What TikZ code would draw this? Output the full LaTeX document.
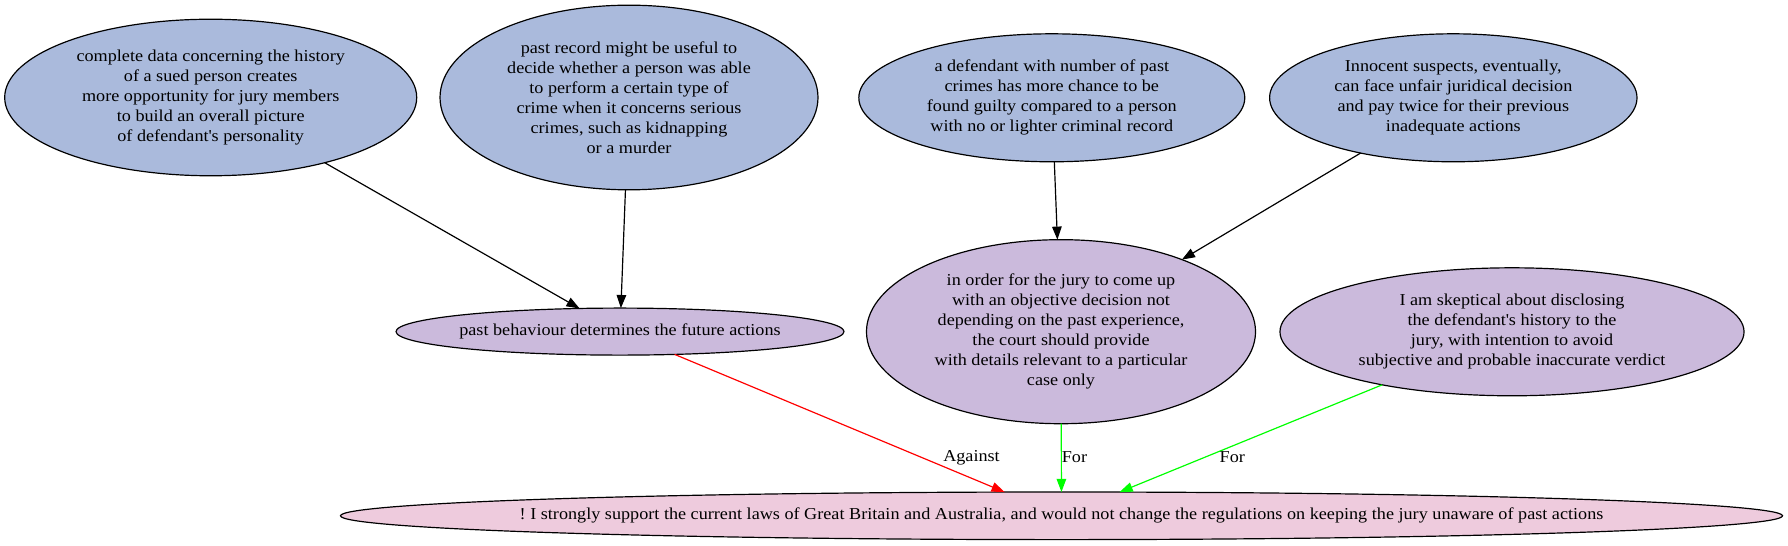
\documentclass[tikz,border=0pt]{standalone}
\usepackage{fontspec}
\setmainfont{Liberation Serif}[FakeStretch=1.09]
\usetikzlibrary{shapes.geometric,arrows.meta}
\definecolor{cblue}{HTML}{AABADC}
\definecolor{cpurple}{HTML}{CBBADC}
\definecolor{cpink}{HTML}{EECBDD}
\definecolor{cgreen}{HTML}{00FF00}
\definecolor{cred}{HTML}{FF0000}
\newcommand{\ap}{\textquotesingle}
\frenchspacing
\begin{document}
\begin{tikzpicture}[x=0.84pt,y=-0.84pt,
  shp/.style={ellipse,draw=black,line width=1pt,inner sep=0pt,outer sep=0pt},
  blue/.style={shp,fill=cblue},
  purp/.style={shp,fill=cpurple},
  pink/.style={shp,fill=cpink},
  txt/.style={align=center,inner sep=0pt,font=\fontsize{14}{16.8}\selectfont},
  lbl/.style={inner sep=0pt,font=\fontsize{14}{16.8}\selectfont},
  arr/.style={line width=1pt,-{Triangle[length=11pt,width=8pt]}},
]
\useasboundingbox (0,0) rectangle (1788,546);
% top row
\node[blue,minimum width=346.1pt,minimum height=131.5pt] (e1) at (210.7,97.5) {};
\node[txt] (t1) at (e1.center) {complete data concerning the history\\of a sued person creates\\more opportunity for jury members\\to build an overall picture\\of defendant\ap s personality};
\node[blue,minimum width=317.5pt,minimum height=155.1pt] (e2) at (629,97.5) {};
\node[txt] (t2) at (e2.center) {past record might be useful to\\decide whether a person was able\\to perform a certain type of\\crime when it concerns serious\\crimes, such as kidnapping\\or a murder};
\node[blue,minimum width=324.2pt,minimum height=107.5pt] (e3) at (1051.8,97.8) {};
\node[txt] (t3) at (e3.center) {a defendant with number of past\\crimes has more chance to be\\found guilty compared to a person\\with no or lighter criminal record};
\node[blue,minimum width=308.6pt,minimum height=107.5pt] (e4) at (1453.3,97.8) {};
\node[txt] (t4) at (e4.center) {Innocent suspects, eventually,\\can face unfair juridical decision\\and pay twice for their previous\\inadequate actions};
% middle row
\node[purp,minimum width=376.3pt,minimum height=39.5pt] (p) at (620,331.6) {};
\node[txt] (tp) at (p.center) {past behaviour determines the future actions};
\node[purp,minimum width=326.8pt,minimum height=154.6pt] (q) at (1061,331.7) {};
\node[txt] (tq) at (q.center) {in order for the jury to come up\\with an objective decision not\\depending on the past experience,\\the court should provide\\with details relevant to a particular\\case only};
\node[purp,minimum width=389.8pt,minimum height=107.5pt] (r) at (1512,331.8) {};
\node[txt] (tr) at (r.center) {I am skeptical about disclosing\\the defendant\ap s history to the\\jury, with intention to avoid\\subjective and probable inaccurate verdict};
% bottom
\node[pink,minimum width=1211.3pt,minimum height=40pt] (s) at (1061.5,515.8) {};
\node[txt] (ts) at (s.center) {! I strongly support the current laws of Great Britain and Australia, and would not change the regulations on keeping the jury unaware of past actions};
% edges
\draw[arr,black] (e1) -- (p);
\draw[arr,black] (e2) -- (p);
\draw[arr,black] (e3) -- (q);
\draw[arr,black] (e4) -- (q);
\draw[arr,cred] (p) -- (s);
\draw[arr,cgreen] (q) -- (s);
\draw[arr,cgreen] (r) -- (s);
% labels
\node[lbl] (la) at (971.5,457.5) {Against};
\node[lbl] (lf1) at (1074.5,457.5) {For};
\node[lbl] (lf2) at (1232.3,457.5) {For};
\end{tikzpicture}
\end{document}
